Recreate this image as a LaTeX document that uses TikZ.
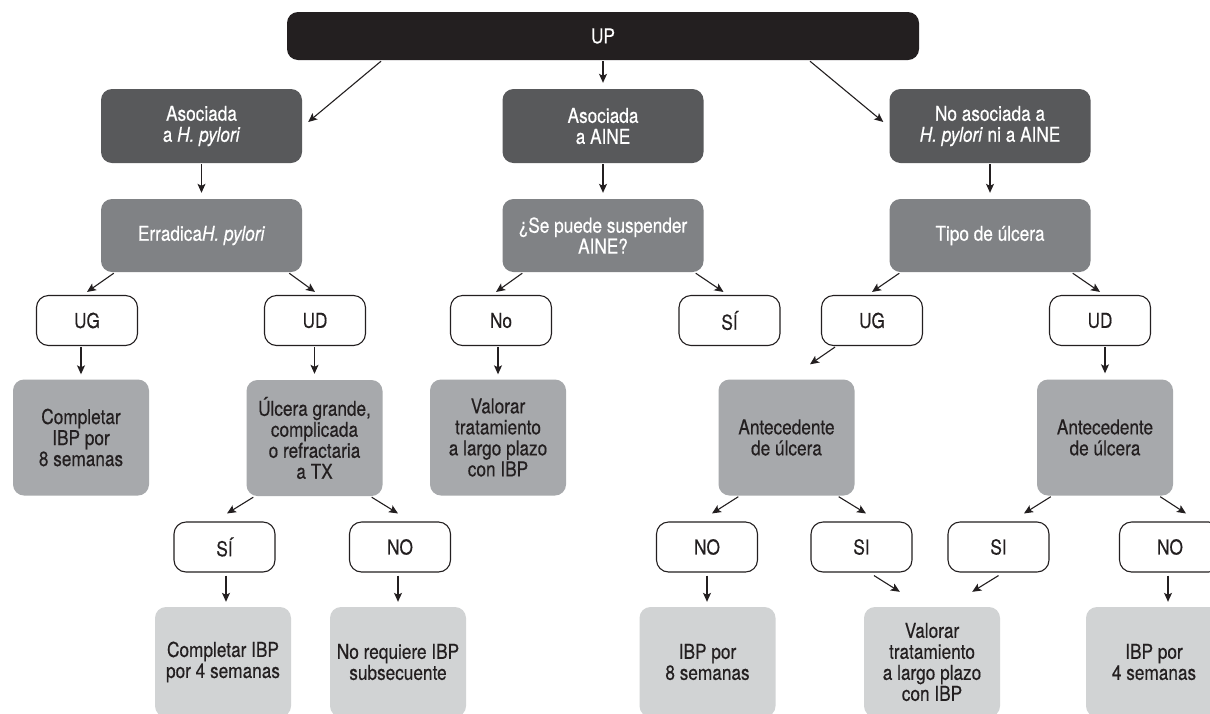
\documentclass[tikz,border=0pt]{standalone}
\usepackage{fontspec}
\setmainfont[FakeStretch=0.84,FakeBold=0.4]{TeX Gyre Heros}
\usetikzlibrary{arrows.meta}
\definecolor{cblack}{HTML}{231F20}
\definecolor{cdark}{HTML}{58595B}
\definecolor{cmid}{HTML}{808285}
\definecolor{cgray}{HTML}{A7A9AC}
\definecolor{clight}{HTML}{D1D3D4}
\begin{document}
\begin{tikzpicture}[x=1pt,y=-1pt,
  every node/.style={font=\fontsize{20.5}{21}\selectfont, align=center, inner sep=0pt},
  bx/.style={rounded corners=11pt, anchor=center},
  topbox/.style={bx, fill=cblack, text=white, minimum width=632pt, minimum height=48pt},
  darkbox/.style={bx, fill=cdark, text=white, minimum width=201pt, minimum height=74pt},
  midbox/.style={bx, fill=cmid, text=white, minimum width=201pt, minimum height=73pt},
  graybox/.style={bx, fill=cgray, text=cblack, minimum width=136pt, minimum height=116pt},
  lightbox/.style={bx, fill=clight, text=cblack, minimum width=136pt, minimum height=110pt},
  choice/.style={bx, draw=cblack, line width=1.1pt, fill=white, text=cblack, minimum width=101pt, minimum height=50pt, rounded corners=12pt},
  arr/.style={draw=cblack, line width=1.1pt, -{Stealth[length=9pt,width=8pt,inset=2pt]}}
]
\useasboundingbox (0,0) rectangle (1210,713);
\clip (0,0) rectangle (1210,713);
\fill[white] (0,0) rectangle (1210,713);

% level 1
\node[topbox] (up) at (603,36) {UP};
% level 2
\node[darkbox] (a1) at (201.5,126) {Asociada\\a \textit{H. pylori}};
\node[darkbox] (a2) at (603,126) {Asociada\\a AINE};
\node[darkbox] (a3) at (990,126) {No asociada a\\\textit{H. pylori} ni a AINE};
% level 3
\node[midbox] (b1) at (201.5,235.5) {Erradica\textit{H. pylori}};
\node[midbox] (b2) at (603,235.5) {¿Se puede suspender\\AINE?};
\node[midbox] (b3) at (990,235.5) {Tipo de úlcera};
% level 4
\node[choice] (ug1) at (87,320.5) {UG};
\node[choice] (ud1) at (315,320.5) {UD};
\node[choice] (no0) at (501,320.5) {No};
\node[choice] (si0) at (729.5,320.5) {SÍ};
\node[choice] (ug2) at (872,320.5) {UG};
\node[choice] (ud2) at (1100,320.5) {UD};
% level 5
\node[graybox] (c1) at (81,437.5) {Completar\\IBP por\\8 semanas};
\node[graybox] (ulc) at (314.5,438) {Úlcera grande,\\complicada\\o refractaria\\a TX};
\node[graybox] (v1) at (498,437.5) {Valorar\\tratamiento\\a largo plazo\\con IBP};
\node[graybox] (an1) at (786.5,437.5) {Antecedente\\de úlcera};
\node[graybox] (an2) at (1105,437.5) {Antecedente\\de úlcera};
% level 6
\node[choice] (si1) at (224.5,547) {SÍ};
\node[choice] (no1) at (400,547) {NO};
\node[choice] (no2) at (707,547) {NO};
\node[choice] (si2) at (861.5,547) {SI};
\node[choice] (si3) at (998.5,547) {SI};
\node[choice] (no3) at (1170,547) {NO};
% level 7
\node[lightbox] (d1) at (223,662) {Completar IBP\\por 4 semanas};
\node[lightbox] (d2) at (398,662) {No requiere IBP\\subsecuente};
\node[lightbox] (d3) at (707.5,662) {IBP por\\8 semanas};
\node[lightbox] (d4) at (932,662) {Valorar\\tratamiento\\a largo plazo\\con IBP};
\node[lightbox] (d5) at (1154,662) {IBP por\\4 semanas};

% arrows level 1 -> 2
\draw[arr] ([shift={(-222pt,-1pt)}]up.south) -- ([shift={(6pt,4pt)}]a1.east);
\draw[arr] ([yshift=-1pt]up.south) -- ([yshift=6pt]a2.north);
\draw[arr] ([shift={(207pt,-1pt)}]up.south) -- ([shift={(-6pt,4pt)}]a3.west);
% 2 -> 3
\draw[arr] ([yshift=-1pt]a1.south) -- ([yshift=6pt]b1.north);
\draw[arr] ([yshift=-1pt]a2.south) -- ([yshift=6pt]b2.north);
\draw[arr] ([yshift=-1pt]a3.south) -- ([yshift=6pt]b3.north);
% 3 -> 4
\draw[arr] ([shift={(13pt,-1pt)}]b1.south west) -- ([yshift=3pt]ug1.north);
\draw[arr] ([shift={(-13pt,-1pt)}]b1.south east) -- ([yshift=3pt]ud1.north);
\draw[arr] ([shift={(20pt,-1pt)}]b2.south west) -- ([shift={(-5pt,3pt)}]no0.north);
\draw[arr] ([shift={(-8pt,-1pt)}]b2.south east) -- ([shift={(-6pt,3pt)}]si0.north);
\draw[arr] ([shift={(10pt,-1pt)}]b3.south west) -- ([yshift=3pt]ug2.north);
\draw[arr] ([shift={(-18pt,-1pt)}]b3.south east) -- ([yshift=3pt]ud2.north);
% 4 -> 5
\draw[arr] ([yshift=-1pt]c1.north |- ug1.south) -- ([yshift=5pt]c1.north);
\draw[arr] ([yshift=-1pt]ulc.north |- ud1.south) -- ([yshift=6pt]ulc.north);
\draw[arr] ([yshift=-1pt]v1.north |- no0.south) -- ([yshift=5pt]v1.north);
\draw[arr] ([shift={(-37pt,-1pt)}]ug2.south) -- ([shift={(23.5pt,15pt)}]an1.north);
\draw[arr] ([yshift=-1pt]an2.north |- ud2.south) -- ([yshift=6pt]an2.north);
% 5 -> 6
\draw[arr] ([shift={(7pt,-1pt)}]ulc.south west) -- ([shift={(2.5pt,8pt)}]si1.north);
\draw[arr] ([shift={(-11pt,-1pt)}]ulc.south east) -- ([shift={(-2pt,8pt)}]no1.north);
\draw[arr] ([shift={(20pt,-1pt)}]an1.south west) -- ([shift={(5pt,8pt)}]no2.north);
\draw[arr] ([shift={(-16pt,-1pt)}]an1.south east) -- ([shift={(4.5pt,8pt)}]si2.north);
\draw[arr] ([shift={(14pt,-1pt)}]an2.south west) -- ([shift={(25.5pt,8pt)}]si3.north);
\draw[arr] ([shift={(-13pt,-1pt)}]an2.south east) -- ([shift={(16pt,8pt)}]no3.north);
% 6 -> 7
\draw[arr] ([shift={(1.5pt,-3pt)}]si1.south) -- ([shift={(3pt,5pt)}]d1.north);
\draw[arr] ([shift={(-2pt,-3pt)}]no1.south) -- ([yshift=5pt]d2.north);
\draw[arr] ([yshift=-3pt]no2.south) -- ([shift={(-0.5pt,5pt)}]d3.north);
\draw[arr] ([shift={(12.5pt,-3pt)}]si2.south) -- ([shift={(36pt,15pt)}]d4.north west);
\draw[arr] ([yshift=-3pt]si3.south) -- ([shift={(-28pt,15pt)}]d4.north east);
\draw[arr] ([shift={(-2pt,-3pt)}]no3.south) -- ([shift={(14pt,5pt)}]d5.north);
\end{tikzpicture}
\end{document}
